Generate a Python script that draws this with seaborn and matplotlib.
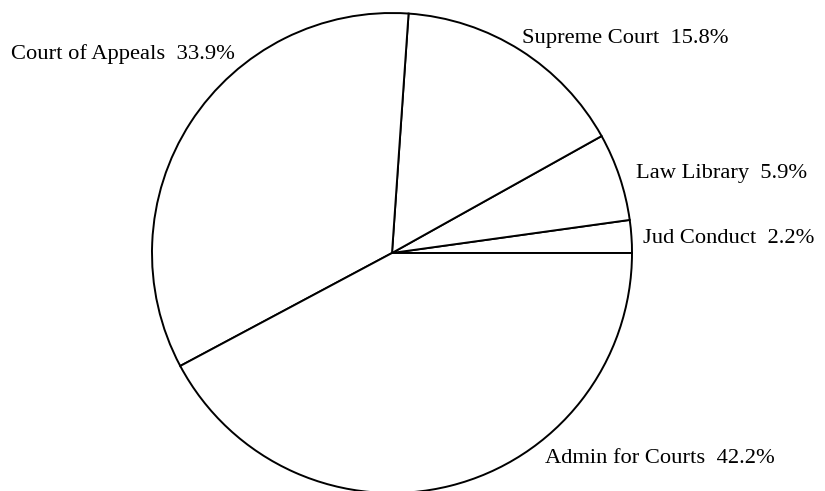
import matplotlib
matplotlib.use("Agg")
import matplotlib.pyplot as plt
import seaborn as sns

# Data
categories = ["Jud Conduct", "Law Library", "Supreme Court", "Court of Appeals", "Admin for Courts"]
shares = [2.2, 5.9, 15.8, 33.9, 42.2]
pct_labels = ["2.2%", "5.9%", "15.8%", "33.9%", "42.2%"]

# Layout (label anchors in units of pie radius, alignment)
label_pos = [(1.046, 0.042, "left"), (1.017, 0.312, "left"), (0.542, 0.875, "left"),
             (-0.654, 0.808, "right"), (0.6375, -0.875, "left")]

sns.set_theme(style="white")
plt.rcParams["font.family"] = ["Liberation Serif", "DejaVu Serif"]

W, H, DPI = 825, 491, 100
fig = plt.figure(figsize=(W / DPI, H / DPI), dpi=DPI)
ax = fig.add_axes([0, 0, 1, 1])

cx, cy, R = 392, 253, 240
ax.pie(shares, startangle=0, counterclock=True, radius=1, center=(0, 0),
       colors=["white"] * len(shares),
       wedgeprops=dict(edgecolor="black", linewidth=1.4))

for cat, pct, (x, y, ha) in zip(categories, pct_labels, label_pos):
    ax.text(x, y, f"{cat}  {pct}", ha=ha, va="baseline", fontsize=16.2, color="black")

ax.set_xlim(-cx / R, (W - cx) / R)
ax.set_ylim(-(H - cy) / R, cy / R)
ax.set_aspect("auto")
ax.axis("off")

fig.savefig("out.png", dpi=DPI, facecolor="white")
